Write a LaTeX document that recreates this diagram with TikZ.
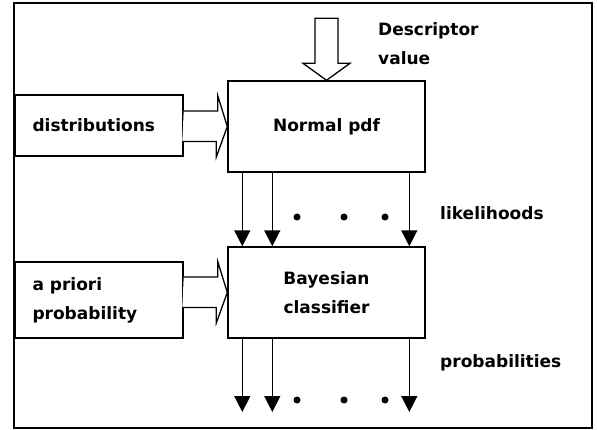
\documentclass[tikz,border=0pt]{standalone}
\usepackage{fontspec}
\setmainfont{DejaVu Sans}
\usetikzlibrary{arrows.meta}

\tikzset{
    block/.style={draw, line width=1.4pt, inner sep=0pt},
    fat/.style={draw, line width=1.3pt, fill=white, line join=miter},
    tip/.style={line width=1.5pt, -{Triangle[width=16pt,length=16pt]}},
    lbl/.style={font=\bfseries\fontsize{17}{29}\selectfont, inner sep=0pt, align=left}
}

\begin{document}
\begin{tikzpicture}[x=1pt, y=-1pt]
    \useasboundingbox (0,0) rectangle (597,430);
    \draw[line width=1.6pt] (14,3) rectangle (592,428);

    % the two main blocks
    \node[block, minimum width=197pt, minimum height=91pt, lbl, align=center] (pdf) at (326.5,126.5) {Normal pdf};
    \node[block, minimum width=197pt, minimum height=91pt, lbl, align=center] (bayes) at (326.5,292.5) {Bayesian\\classifier};

    % inputs on the left
    \node[block, minimum width=168pt, minimum height=61pt] (dist) at (99,125.5) {};
    \node[lbl, anchor=west] at ([xshift=18pt]dist.west) {distributions};
    \node[block, minimum width=168pt, minimum height=76pt] (prior) at (99,300) {};
    \node[lbl, anchor=west] at ([xshift=18pt]prior.west) {a priori\\probability};

    % hollow arrows
    \draw[fat] (dist.east |- pdf.west) ++(0,-15.5) -- ++(34,0) -- ++(0,-15.5) -- (pdf.west)
        -- ++(-11,30.5) -- ++(0,-15.5) -- ++(-34,0);
    \draw[fat] (prior.east |- bayes.west) ++(0,-15.5) -- ++(34,0) -- ++(0,-15.5) -- (bayes.west)
        -- ++(-11,30.5) -- ++(0,-15.5) -- ++(-34,0);
    \draw[fat] (pdf.north) ++(-11.5,-62) -- ++(0,45) -- ++(-12,0) -- (pdf.north)
        -- ++(23.5,-17) -- ++(-12,0) -- ++(0,-45) -- cycle;

    % labels
    \node[lbl, anchor=north west] (desc) at (378,22) {Descriptor\\value};
    \node[lbl, anchor=west] (lik) at (440,213) {likelihoods};
    \node[lbl, anchor=west] (prob) at (440,363) {probabilities};

    % likelihood and output arrows
    \coordinate (out) at (0,412);
    \foreach \dx in {15,45,182}
    {
        \draw[tip] ([xshift=\dx pt]pdf.south west) -- ([xshift=\dx pt]bayes.north west);
        \draw[tip] ([xshift=\dx pt]bayes.south west) -- ([xshift=\dx pt]bayes.south west |- out);
    }
    \foreach \x in {297,344,385}
    {
        \fill (\x,217) circle (3.5pt);
        \fill (\x,400) circle (3.5pt);
    }
\end{tikzpicture}
\end{document}
